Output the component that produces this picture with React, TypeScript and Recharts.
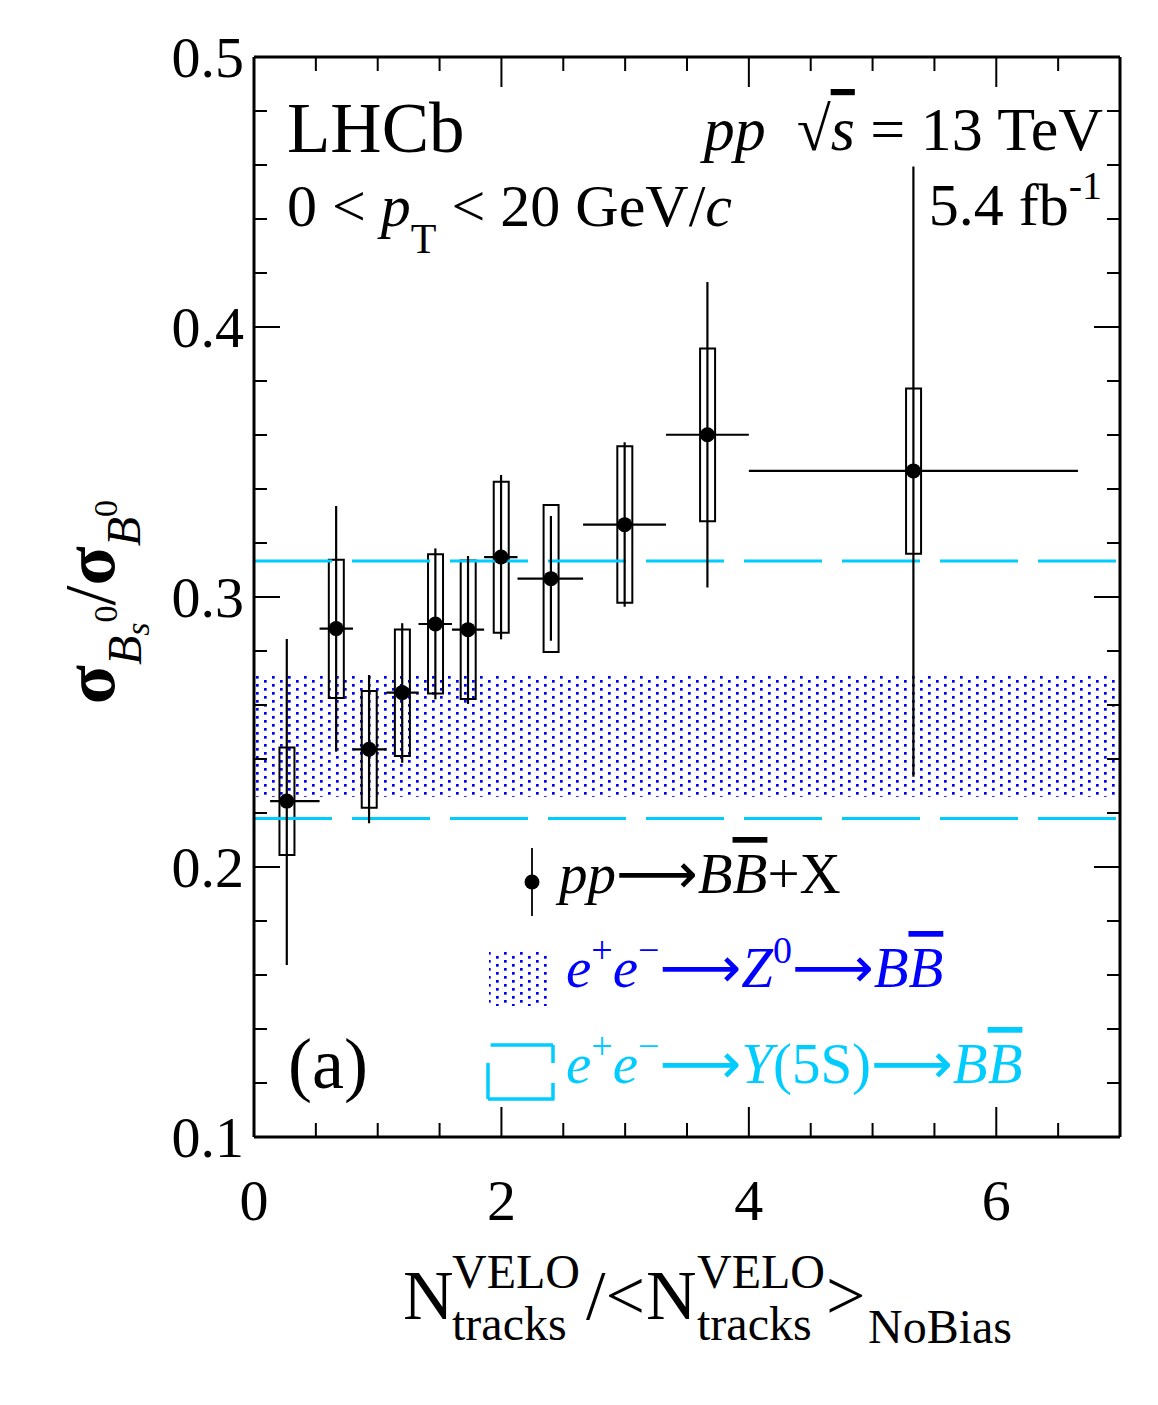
import React from 'react';
import {
  ComposedChart,
  XAxis,
  YAxis,
  Scatter,
  Bar,
  ErrorBar,
  ReferenceLine,
  ReferenceArea,
} from 'recharts';

// ---- data ----
const binCenters = [0.265, 0.664, 0.93, 1.198, 1.466, 1.73, 1.997, 2.4, 2.996, 3.665, 5.33];
const binLow = [0.13, 0.53, 0.8, 1.07, 1.33, 1.6, 1.86, 2.13, 2.66, 3.33, 4.0];
const binHigh = [0.53, 0.8, 1.07, 1.33, 1.6, 1.86, 2.13, 2.66, 3.33, 4.0, 6.66];
const ratio = [0.2244, 0.2883, 0.2436, 0.2646, 0.29, 0.2879, 0.3148, 0.3068, 0.3268, 0.3601, 0.3467];
const statHigh = [0.2844, 0.3337, 0.2711, 0.2903, 0.318, 0.3152, 0.3452, 0.33, 0.3573, 0.4167, 0.4594];
const statLow = [0.1637, 0.2427, 0.2162, 0.2386, 0.2621, 0.2604, 0.2843, 0.2838, 0.2964, 0.3035, 0.2334];
const sysHigh = [0.2443, 0.3138, 0.2652, 0.288, 0.3158, 0.3135, 0.3427, 0.3341, 0.3558, 0.392, 0.3772];
const sysLow = [0.2044, 0.2626, 0.2219, 0.2411, 0.2643, 0.2622, 0.2868, 0.2796, 0.2979, 0.3281, 0.316];

const z0Band = [0.226, 0.271];
const y5sLines = [0.3133, 0.218];

const xTicks = [0, 0.5, 1, 1.5, 2, 2.5, 3, 3.5, 4, 4.5, 5, 5.5, 6, 6.5, 7];
const xMajor = [0, 2, 4, 6];
const yTicks = [
  0.1, 0.12, 0.14, 0.16, 0.18, 0.2, 0.22, 0.24, 0.26, 0.28, 0.3,
  0.32, 0.34, 0.36, 0.38, 0.4, 0.42, 0.44, 0.46, 0.48, 0.5,
];
const yMajor = [0.1, 0.2, 0.3, 0.4, 0.5];
const yMajorLabels = ['0.1', '0.2', '0.3', '0.4', '0.5'];

const data = binCenters.map((x, i) => ({
  x,
  y: ratio[i],
  xErr: [x - binLow[i], binHigh[i] - x],
  yErr: [ratio[i] - statLow[i], statHigh[i] - ratio[i]],
  sys: [sysLow[i], sysHigh[i]],
}));

const FONT = '"Liberation Serif", "Times New Roman", serif';
const ARROW_FONT = '"DejaVu Sans", sans-serif';
const ARROW = '\u27F6';
const BLUE = '#0000ff';
const CYAN = '#00ccff';

const W = 1142;
const H = 1390;

const isIn = (arr: number[], v: number) => arr.findIndex((a) => Math.abs(a - v) < 1e-6);

const BottomTick = (p: any) => {
  const { x, y, payload } = p;
  const major = isIn(xMajor, payload.value) >= 0;
  return (
    <g>
      <line x1={x} x2={x} y1={y} y2={y - (major ? 30 : 14)} stroke="#000" strokeWidth={2} />
      {major && (
        <text x={x} y={y + 83} textAnchor="middle" fontSize={58} fontFamily={FONT} fill="#000">
          {String(payload.value)}
        </text>
      )}
    </g>
  );
};

const TopTick = (p: any) => {
  const { x, y, payload } = p;
  const major = isIn(xMajor, payload.value) >= 0;
  return <line x1={x} x2={x} y1={y} y2={y + (major ? 30 : 14)} stroke="#000" strokeWidth={2} />;
};

const LeftTick = (p: any) => {
  const { x, y, payload } = p;
  const idx = isIn(yMajor, payload.value);
  const major = idx >= 0;
  return (
    <g>
      <line x1={x} x2={x + (major ? 26 : 13)} y1={y} y2={y} stroke="#000" strokeWidth={2} />
      {major && (
        <text x={x - 10} y={y + 20} textAnchor="end" fontSize={58} fontFamily={FONT} fill="#000">
          {yMajorLabels[idx]}
        </text>
      )}
    </g>
  );
};

const RightTick = (p: any) => {
  const { x, y, payload } = p;
  const major = isIn(yMajor, payload.value) >= 0;
  return <line x1={x} x2={x - (major ? 26 : 13)} y1={y} y2={y} stroke="#000" strokeWidth={2} />;
};

const DotPattern = ({ id }: { id: string }) => (
  <pattern id={id} patternUnits="userSpaceOnUse" width={16} height={8}>
    <rect x={0} y={0} width={2.7} height={2.7} fill={BLUE} />
    <rect x={8} y={4} width={2.7} height={2.7} fill={BLUE} />
  </pattern>
);

const BandShape = (p: any) => (
  <g>
    <defs>
      <DotPattern id="dotsBand" />
    </defs>
    <rect x={p.x} y={p.y} width={p.width} height={p.height} fill="url(#dotsBand)" stroke="none" />
  </g>
);

const PointShape = (p: any) => <circle cx={p.cx} cy={p.cy} r={7.5} fill="#000" />;
const NoShape = () => <g />;

const Arrow = () => <tspan fontFamily={ARROW_FONT}>{ARROW}</tspan>;

const Overlay = () => (
  <svg
    width={W}
    height={H}
    style={{ position: 'absolute', left: 0, top: 0, pointerEvents: 'none' }}
    fontFamily={FONT}
  >
    <defs>
      <DotPattern id="dotsLegend" />
    </defs>
    {/* top-left labels */}
    <text x={279} y={144} fontSize={71}>LHCb</text>
    <text x={279} y={218} fontSize={60}>
      {'0 < '}
      <tspan fontStyle="italic">p</tspan>
      <tspan fontSize={42} dy={27}>T</tspan>
      <tspan dy={-27}>{' < 20 GeV/'}</tspan>
      <tspan fontStyle="italic">c</tspan>
    </text>
    {/* top-right labels */}
    <text x={1095} y={142} fontSize={62} textAnchor="end">
      <tspan fontStyle="italic">pp</tspan>
      <tspan>{'\u2002\u221A'}</tspan>
      <tspan fontStyle="italic" textDecoration="overline">s</tspan>
      <tspan>{' = 13 TeV'}</tspan>
    </text>
    <text x={1094} y={217} fontSize={60} textAnchor="end">
      {'5.4 fb'}
      <tspan fontSize={40} dy={-26}>-1</tspan>
    </text>
    <text x={280} y={1080} fontSize={72}>(a)</text>

    {/* legend */}
    <line x1={524} x2={524} y1={840} y2={908} stroke="#000" strokeWidth={1.8} />
    <circle cx={524} cy={874} r={7.5} fill="#000" />
    <text x={551} y={885} fontSize={57}>
      <tspan fontStyle="italic">pp</tspan>
      <Arrow />
      <tspan fontStyle="italic">B</tspan>
      <tspan fontStyle="italic" textDecoration="overline">B</tspan>
      <tspan>+X</tspan>
    </text>

    <rect x={481} y={944} width={60} height={54} fill="url(#dotsLegend)" />
    <text x={558} y={979} fontSize={57} fill={BLUE}>
      <tspan fontStyle="italic">e</tspan>
      <tspan fontSize={38} dy={-24}>+</tspan>
      <tspan fontStyle="italic" dy={24}>e</tspan>
      <tspan fontSize={38} dy={-24}>{'\u2212'}</tspan>
      <tspan dy={24} fontFamily={ARROW_FONT}>{ARROW}</tspan>
      <tspan fontStyle="italic">Z</tspan>
      <tspan fontSize={38} dy={-24}>0</tspan>
      <tspan dy={24} fontFamily={ARROW_FONT}>{ARROW}</tspan>
      <tspan fontStyle="italic">B</tspan>
      <tspan fontStyle="italic" textDecoration="overline">B</tspan>
    </text>

    <path
      d="M482.6 1037 H545 M545 1037 V1055 M545 1075 V1091 M480 1091 H546.5 M480 1055 V1091"
      stroke={CYAN}
      strokeWidth={3.5}
      fill="none"
    />
    <text x={558} y={1075} fontSize={57} fill={CYAN}>
      <tspan fontStyle="italic">e</tspan>
      <tspan fontSize={38} dy={-24}>+</tspan>
      <tspan fontStyle="italic" dy={24}>e</tspan>
      <tspan fontSize={38} dy={-24}>{'\u2212'}</tspan>
      <tspan dy={24} fontFamily={ARROW_FONT}>{ARROW}</tspan>
      <tspan fontStyle="italic">Y</tspan>
      <tspan>(5S)</tspan>
      <Arrow />
      <tspan fontStyle="italic">B</tspan>
      <tspan fontStyle="italic" textDecoration="overline">B</tspan>
    </text>

    {/* y-axis title */}
    <text transform="translate(106 594) rotate(-90)" textAnchor="middle" fontSize={72}>
      <tspan fontWeight="bold">{'\u03C3'}</tspan>
      <tspan fontStyle="italic" fontSize={48} dy={27}>B</tspan>
      <tspan fontStyle="italic" fontSize={34} dy={8}>s</tspan>
      <tspan fontSize={34} dy={-32}>0</tspan>
      <tspan dy={-3}>/</tspan>
      <tspan fontWeight="bold">{'\u03C3'}</tspan>
      <tspan fontStyle="italic" fontSize={48} dy={26}>B</tspan>
      <tspan fontSize={34} dy={-23}>0</tspan>
    </text>

    {/* x-axis title */}
    <text x={395} y={1311} fontSize={70}>N</text>
    <text x={444} y={1280} fontSize={48}>VELO</text>
    <text x={444} y={1332} fontSize={48}>tracks</text>
    <text x={578} y={1311} fontSize={70}>{'/<'}</text>
    <text x={638} y={1311} fontSize={70}>N</text>
    <text x={689} y={1280} fontSize={48}>VELO</text>
    <text x={689} y={1332} fontSize={48}>tracks</text>
    <text x={818} y={1311} fontSize={70}>{'>'}</text>
    <text x={860} y={1335} fontSize={48}>NoBias</text>
  </svg>
);

export default function App() {
  return (
    <div style={{ position: 'relative', width: W, height: H }}>
      <ComposedChart
        width={W}
        height={H}
        data={data}
        margin={{ top: 48, right: 29, left: 0, bottom: 0 }}
      >
        <XAxis
          xAxisId="b"
          dataKey="x"
          type="number"
          domain={[0, 7]}
          ticks={xTicks}
          interval={0}
          allowDataOverflow
          orientation="bottom"
          height={261}
          tickLine={false}
          tickSize={0}
          tickMargin={0}
          axisLine={{ stroke: '#000', strokeWidth: 3 }}
          tick={<BottomTick />}
        />
        <XAxis
          xAxisId="t"
          dataKey="x"
          type="number"
          domain={[0, 7]}
          ticks={xTicks}
          interval={0}
          allowDataOverflow
          orientation="top"
          height={1}
          tickLine={false}
          tickSize={0}
          tickMargin={0}
          axisLine={{ stroke: '#000', strokeWidth: 3 }}
          tick={<TopTick />}
        />
        <YAxis
          yAxisId="l"
          type="number"
          domain={[0.1, 0.5]}
          ticks={yTicks}
          interval={0}
          allowDataOverflow
          orientation="left"
          width={246}
          tickLine={false}
          tickSize={0}
          tickMargin={0}
          axisLine={{ stroke: '#000', strokeWidth: 3 }}
          tick={<LeftTick />}
        />
        <YAxis
          yAxisId="r"
          type="number"
          domain={[0.1, 0.5]}
          ticks={yTicks}
          interval={0}
          allowDataOverflow
          orientation="right"
          width={1}
          tickLine={false}
          tickSize={0}
          tickMargin={0}
          axisLine={{ stroke: '#000', strokeWidth: 3 }}
          tick={<RightTick />}
        />

        <ReferenceArea
          xAxisId="b"
          yAxisId="l"
          y1={z0Band[0]}
          y2={z0Band[1]}
          shape={<BandShape />}
          ifOverflow="hidden"
        />
        {y5sLines.map((v, i) => (
          <ReferenceLine
            key={i}
            xAxisId="b"
            yAxisId="l"
            y={v}
            stroke={CYAN}
            strokeWidth={3}
            strokeDasharray="78 20"
          />
        ))}

        <Bar
          xAxisId="b"
          yAxisId="l"
          dataKey="sys"
          barSize={15}
          fill="none"
          stroke="#000"
          strokeWidth={2}
          isAnimationActive={false}
        />
        <Scatter
          xAxisId="b"
          yAxisId="l"
          dataKey="y"
          shape={PointShape}
          isAnimationActive={false}
        >
          <ErrorBar dataKey="yErr" direction="y" width={0} stroke="#000" strokeWidth={2.2} />
          <ErrorBar dataKey="xErr" direction="x" width={0} stroke="#000" strokeWidth={2.2} />
        </Scatter>
        <Scatter
          xAxisId="t"
          yAxisId="r"
          dataKey="y"
          shape={NoShape}
          legendType="none"
          isAnimationActive={false}
        />
      </ComposedChart>
      <Overlay />
    </div>
  );
}
